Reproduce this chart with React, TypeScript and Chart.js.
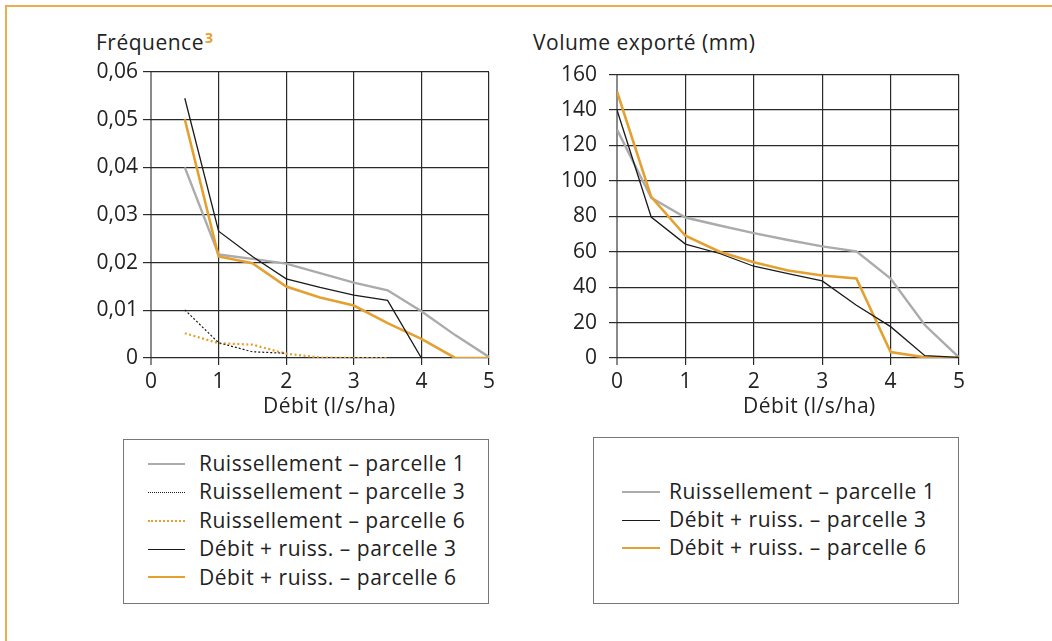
import React, { useEffect, useRef } from "react";
import { Chart, registerables } from "chart.js";

Chart.register(...registerables);

// ---------- DATA ----------
// Left chart: Fréquence vs Débit (l/s/ha)
const freqX = [0.5, 1, 1.5, 2, 2.5, 3, 3.5, 4, 4.5, 5];
const freqRuissP1 = [0.040, 0.0217, 0.0208, 0.0198, 0.0178, 0.0158, 0.0142, 0.0098, 0.0048, 0.0002];
const freqRuissP3 = [0.0101, 0.0032, 0.0013, 0.0010];
const freqRuissP6 = [0.0052, 0.0031, 0.0028, 0.0009, 0.0001, 0, 0];
const freqDebitP3 = [0.0545, 0.0266, 0.0213, 0.0166, 0.0148, 0.0132, 0.0121, 0];
const freqDebitP6 = [0.0501, 0.0213, 0.0199, 0.0150, 0.0127, 0.0110, 0.0073, 0.0040, 0, 0];

// Right chart: Volume exporté (mm) vs Débit (l/s/ha)
const volX = [0, 0.5, 1, 1.5, 2, 2.5, 3, 3.5, 4, 4.5, 5];
const volRuissP1 = [129, 90.5, 79.3, 74.8, 70.5, 66.6, 63, 60.2, 44.8, 18.6, 0.3];
const volDebitP3 = [140, 79.6, 64.3, 59, 51.8, 47.6, 43.5, 29.8, 17.7, 1.3, 0.4];
const volDebitP6 = [150.5, 91, 69, 60, 54.1, 49.4, 46.6, 44.9, 3.4, 0.4, 0];

const xTicks = [0, 1, 2, 3, 4, 5];
const freqTicks = [0, 0.01, 0.02, 0.03, 0.04, 0.05, 0.06];
const volTicks = [0, 20, 40, 60, 80, 100, 120, 140, 160];

const xTitle = "Débit (l/s/ha)";
const freqTitle = "Fréquence";
const volTitle = "Volume exporté (mm)";

const labelRuissP1 = "Ruissellement – parcelle 1";
const labelRuissP3 = "Ruissellement – parcelle 3";
const labelRuissP6 = "Ruissellement – parcelle 6";
const labelDebitP3 = "Débit + ruiss. – parcelle 3";
const labelDebitP6 = "Débit + ruiss. – parcelle 6";

// ---------- STYLE ----------
const ORANGE = "#E4A030";
const GRAY = "#ABABAB";
const BLACK = "#1a1a1a";
const GRID = "#2a2a2a";
const TEXT = "#222";
const FONT = "'Open Sans', sans-serif";

const pts = (xs: number[], ys: number[]) => ys.map((y, i) => ({ x: xs[i], y }));

type Spec = {
  datasets: any[];
  yMax: number;
  yTicks: number[];
  yFmt: (v: number) => string;
  yWidth: number;
  yPad: number;
};

function makeConfig(spec: Spec): any {
  return {
    type: "line",
    data: { datasets: spec.datasets },
    options: {
      animation: false,
      responsive: false,
      maintainAspectRatio: false,
      layout: { padding: { top: 22, right: 21, bottom: 0, left: 0 } },
      plugins: { legend: { display: false }, tooltip: { enabled: false }, title: { display: false } },
      elements: { point: { radius: 0 }, line: { tension: 0 } },
      scales: {
        x: {
          type: "linear",
          min: 0,
          max: 5,
          afterBuildTicks: (s: any) => {
            s.ticks = xTicks.map((v) => ({ value: v }));
          },
          afterFit: (s: any) => {
            s.height = 37;
          },
          border: { display: false },
          grid: {
            drawOnChartArea: true,
            drawTicks: true,
            tickLength: 7,
            color: (c: any) => (c.tick && c.tick.value === 0 ? "#8a8a8a" : GRID),
            lineWidth: (c: any) => (c.tick && c.tick.value === 0 ? 2 : 1.2),
          },
          ticks: {
            padding: 4,
            color: TEXT,
            font: { family: FONT, size: 21 },
            maxRotation: 0,
            callback: (v: number) => String(v),
          },
        },
        y: {
          type: "linear",
          min: 0,
          max: spec.yMax,
          afterBuildTicks: (s: any) => {
            s.ticks = spec.yTicks.map((v) => ({ value: v }));
          },
          afterFit: (s: any) => {
            s.width = spec.yWidth;
          },
          border: { display: false },
          grid: {
            tickLength: 8,
            color: GRID,
            lineWidth: 1.2,
          },
          ticks: {
            padding: spec.yPad,
            color: TEXT,
            font: { family: FONT, size: 21 },
            callback: (v: number) => spec.yFmt(v),
          },
        },
      },
    },
  };
}

function ChartCanvas({ spec, left, top, width, height }: { spec: Spec; left: number; top: number; width: number; height: number }) {
  const ref = useRef<HTMLCanvasElement | null>(null);
  useEffect(() => {
    if (!ref.current) return;
    const chart = new Chart(ref.current, makeConfig(spec));
    return () => chart.destroy();
  }, []);
  return (
    <canvas
      ref={ref}
      width={width}
      height={height}
      style={{ position: "absolute", left, top, width, height }}
    />
  );
}

const freqSpec: Spec = {
  datasets: [
    { label: labelDebitP3, data: pts(freqX, freqDebitP3), borderColor: BLACK, borderWidth: 1.3 },
    { label: labelRuissP3, data: pts(freqX, freqRuissP3), borderColor: BLACK, borderWidth: 1.2, borderDash: [2, 2] },
    { label: labelRuissP6, data: pts(freqX, freqRuissP6), borderColor: ORANGE, borderWidth: 2.2, borderDash: [2, 2.5] },
    { label: labelDebitP6, data: pts(freqX, freqDebitP6), borderColor: ORANGE, borderWidth: 2.6 },
    { label: labelRuissP1, data: pts(freqX, freqRuissP1), borderColor: GRAY, borderWidth: 2.4 },
  ],
  yMax: 0.06,
  yTicks: freqTicks,
  yFmt: (v) => (v === 0 ? "0" : v.toFixed(2).replace(".", ",")),
  yWidth: 71,
  yPad: 5,
};

const volSpec: Spec = {
  datasets: [
    { label: labelDebitP3, data: pts(volX, volDebitP3), borderColor: BLACK, borderWidth: 1.3 },
    { label: labelDebitP6, data: pts(volX, volDebitP6), borderColor: ORANGE, borderWidth: 2.6 },
    { label: labelRuissP1, data: pts(volX, volRuissP1), borderColor: GRAY, borderWidth: 2.4 },
  ],
  yMax: 160,
  yTicks: volTicks,
  yFmt: (v) => String(v),
  yWidth: 77,
  yPad: 12,
};

type LegendItem = { label: string; color: string; width: number; style: "solid" | "dotted" | "dashed" };

const leftLegend: LegendItem[] = [
  { label: labelRuissP1, color: GRAY, width: 2.5, style: "solid" },
  { label: labelRuissP3, color: BLACK, width: 1, style: "dotted" },
  { label: labelRuissP6, color: ORANGE, width: 2, style: "dotted" },
  { label: labelDebitP3, color: BLACK, width: 1.3, style: "solid" },
  { label: labelDebitP6, color: ORANGE, width: 2.6, style: "solid" },
];
const rightLegend: LegendItem[] = [
  { label: labelRuissP1, color: GRAY, width: 2.5, style: "solid" },
  { label: labelDebitP3, color: BLACK, width: 1.3, style: "solid" },
  { label: labelDebitP6, color: ORANGE, width: 2.6, style: "solid" },
];

const textStyle: React.CSSProperties = {
  position: "absolute",
  fontFamily: FONT,
  fontSize: 21,
  color: TEXT,
  whiteSpace: "nowrap",
  letterSpacing: 0.5,
  lineHeight: "28px",
};

function Legend({
  items, box, firstCenter, step, lineLeft, lineWidth, textLeft,
}: {
  items: LegendItem[]; box: { left: number; top: number; width: number; height: number };
  firstCenter: number; step: number; lineLeft: number; lineWidth: number; textLeft: number;
}) {
  return (
    <>
      <div
        style={{
          position: "absolute",
          left: box.left,
          top: box.top,
          width: box.width,
          height: box.height,
          border: "1.5px solid #777",
          boxSizing: "border-box",
        }}
      />
      {items.map((it, i) => {
        const cy = firstCenter + i * step;
        return (
          <React.Fragment key={i}>
            <div
              style={{
                position: "absolute",
                left: lineLeft,
                top: cy - it.width / 2,
                width: lineWidth,
                height: 0,
                borderTop: `${it.width}px ${it.style} ${it.color}`,
              }}
            />
            <div style={{ ...textStyle, left: textLeft, top: cy - 15 }}>{it.label}</div>
          </React.Fragment>
        );
      })}
    </>
  );
}

export default function App() {
  return (
    <div style={{ position: "absolute", left: 0, top: 0, width: 1052, height: 641, background: "#fff", overflow: "hidden" }}>
      {/* frame */}
      <div
        style={{
          position: "absolute",
          left: 5,
          top: 5,
          width: 1060,
          height: 660,
          borderTop: "2px solid #EBAE4F",
          borderLeft: "2px solid #EBAE4F",
          boxSizing: "border-box",
        }}
      />
      {/* titles */}
      <div style={{ ...textStyle, left: 96, top: 28, fontSize: 21 }}>
        {freqTitle}
        <span style={{ color: ORANGE, fontSize: 14, fontWeight: 700, position: "relative", top: -7, marginLeft: 1 }}>3</span>
      </div>
      <div style={{ ...textStyle, left: 533, top: 28, fontSize: 21 }}>{volTitle}</div>

      <ChartCanvas spec={freqSpec} left={80} top={50} width={430} height={345} />
      <ChartCanvas spec={volSpec} left={540} top={50} width={440} height={345} />

      <div style={{ ...textStyle, left: 263, top: 391 }}>{xTitle}</div>
      <div style={{ ...textStyle, left: 743, top: 391 }}>{xTitle}</div>

      <Legend
        items={leftLegend}
        box={{ left: 123, top: 439, width: 366, height: 165 }}
        firstCenter={464}
        step={28.4}
        lineLeft={148}
        lineWidth={37}
        textLeft={199}
      />
      <Legend
        items={rightLegend}
        box={{ left: 593, top: 437, width: 366, height: 167 }}
        firstCenter={492}
        step={28.2}
        lineLeft={622}
        lineWidth={38}
        textLeft={669}
      />
    </div>
  );
}
